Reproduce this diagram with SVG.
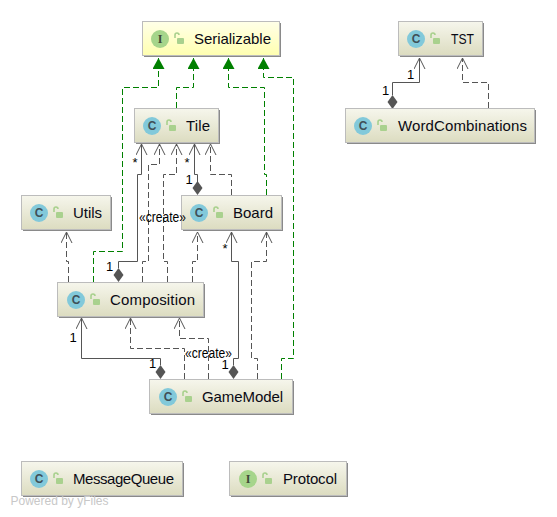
<svg xmlns="http://www.w3.org/2000/svg" width="557" height="517" viewBox="0 0 557 517">
<style>
text{font-family:"Liberation Sans",sans-serif;font-size:15px;fill:#0a0a14}
.lbl{font-family:"Liberation Sans",sans-serif;font-size:13px;fill:#000}
.cr{font-family:"Liberation Sans",sans-serif;font-size:14px;fill:#000}
.box{fill:url(#g);stroke:#bcbcbc;stroke-width:1}
.sh{fill:#8a8a8a}
.c{fill:#82c9da}
.i{fill:#a6d58b}
.k{font-family:"Liberation Sans",sans-serif;font-size:12px;font-weight:bold;fill:#3f5058;text-anchor:middle}
.ki{font-family:"Liberation Serif",serif;font-size:12px;font-weight:bold;fill:#3f4a38;text-anchor:middle}
.l{fill:none;stroke:#a9d18e;stroke-width:1.6}
.b{fill:#a9d18e}
.s{fill:none;stroke:#555;stroke-width:1}
.d{fill:none;stroke:#555;stroke-width:1;stroke-dasharray:6 3}
.gr{fill:none;stroke:#008000;stroke-width:1;stroke-dasharray:6 3}
.dia{fill:#555}
</style>
<defs>
<linearGradient id="g" x1="0" y1="0" x2="0" y2="1"><stop offset="0" stop-color="#f6f6ec"/><stop offset="1" stop-color="#dcdcc0"/></linearGradient>
<linearGradient id="y" x1="0" y1="0" x2="0" y2="1"><stop offset="0" stop-color="#ffffe8"/><stop offset="1" stop-color="#ffffb0"/></linearGradient>
<marker id="o" markerWidth="14" markerHeight="12" refX="13" refY="6" orient="auto" markerUnits="userSpaceOnUse"><path d="M2 0.5L13 6L2 11.5" fill="none" stroke="#555"/></marker>
<marker id="t" markerWidth="13" markerHeight="13" refX="12" refY="6" orient="auto" markerUnits="userSpaceOnUse"><path d="M1 0L12 6L1 12z" fill="#008000"/></marker>
<g id="lock"><path class="l" d="M-4 -1v-3a2 2 0 0 1 4 0"/><rect class="b" x="-2" y="-1" width="7" height="6" rx="1"/></g>
</defs>
<g id="connectors">
<path class="gr" marker-end="url(#t)" d="M93.5 282V251.5H122.5V87.5H158.5V58"/>
<path class="gr" marker-end="url(#t)" d="M176.5 108V87.5H193.5V58"/>
<path class="gr" marker-end="url(#t)" d="M266.5 195V174.5H264.5V87.5H228.5V58"/>
<path class="gr" marker-end="url(#t)" d="M281.5 379V358.5H293.5V77.5H263.5V58"/>
<path class="s" marker-end="url(#o)" d="M118.5 268V261.5H137.5V174.5H141.5V144"/>
<path class="d" marker-end="url(#o)" d="M142.5 282V261.5H148.5V164.5H159.5V144"/>
<path class="d" marker-end="url(#o)" d="M167.5 282V261.5H163.5V174.5H176.5V144"/>
<path class="s" marker-end="url(#o)" d="M197.5 182V174.5H194.5V144"/>
<path class="d" marker-end="url(#o)" d="M231.5 195V174.5H210.5V144"/>
<path class="d" marker-end="url(#o)" d="M68.5 282V261.5H66.5V232"/>
<path class="d" marker-end="url(#o)" d="M192.5 282V261.5H197.5V232"/>
<path class="s" marker-end="url(#o)" d="M233.5 365V358.5H238.5V261.5H231.5V232"/>
<path class="d" marker-end="url(#o)" d="M257.5 379V358.5H251.5V261.5H266.5V232"/>
<path class="s" marker-end="url(#o)" d="M160.5 365V358.5H81.5V318"/>
<path class="d" marker-end="url(#o)" d="M184.5 379V348.5H130.5V318"/>
<path class="d" marker-end="url(#o)" d="M208.5 379V338.5H179.5V318"/>
<path class="s" marker-end="url(#o)" d="M392.5 95V82.5H419.5V58"/>
<path class="d" marker-end="url(#o)" d="M488.5 108V82.5H462.5V58"/>
<path class="dia" d="M118.5 268l5 7-5 7-5-7z"/>
<path class="dia" d="M197.5 181l5 7-5 7-5-7z"/>
<path class="dia" d="M233.5 365l5 7-5 7-5-7z"/>
<path class="dia" d="M160.5 365l5 7-5 7-5-7z"/>
<path class="dia" d="M392.5 95l5 7-5 7-5-7z"/>
</g>
<g id="Serializable"><rect class="sh" x="144" y="23" width="137" height="34"/><rect class="box" style="fill:url(#y)" x="142.5" y="21.5" width="137" height="34"/><circle class="i" cx="160" cy="39" r="9"/><text class="ki" x="160" y="43">I</text><use href="#lock" x="179" y="39"/><text x="194" y="44" textLength="77">Serializable</text></g>
<g id="Tile"><rect class="sh" x="136" y="110" width="84" height="34"/><rect class="box" x="134.5" y="108.5" width="84" height="34"/><circle class="c" cx="152" cy="126" r="9"/><text class="k" x="152" y="130">C</text><use href="#lock" x="171" y="126"/><text x="186" y="131" textLength="24">Tile</text></g>
<g id="Utils"><rect class="sh" x="23" y="197" width="89" height="34"/><rect class="box" x="21.5" y="195.5" width="89" height="34"/><circle class="c" cx="39" cy="213" r="9"/><text class="k" x="39" y="217">C</text><use href="#lock" x="58" y="213"/><text x="73" y="218" textLength="29">Utils</text></g>
<g id="Board"><rect class="sh" x="183" y="197" width="100" height="34"/><rect class="box" x="181.5" y="195.5" width="100" height="34"/><circle class="c" cx="199" cy="213" r="9"/><text class="k" x="199" y="217">C</text><use href="#lock" x="218" y="213"/><text x="233" y="218" textLength="40">Board</text></g>
<g id="Composition"><rect class="sh" x="59" y="284" width="146" height="34"/><rect class="box" x="57.5" y="282.5" width="146" height="34"/><circle class="c" cx="76" cy="300" r="9"/><text class="k" x="76" y="304">C</text><use href="#lock" x="95" y="300"/><text x="110" y="305" textLength="85">Composition</text></g>
<g id="GameModel"><rect class="sh" x="151" y="381" width="143" height="34"/><rect class="box" x="149.5" y="379.5" width="143" height="34"/><circle class="c" cx="168" cy="397" r="9"/><text class="k" x="168" y="401">C</text><use href="#lock" x="187" y="397"/><text x="202" y="402" textLength="81">GameModel</text></g>
<g id="TST"><rect class="sh" x="400" y="23" width="84" height="34"/><rect class="box" x="398.5" y="21.5" width="84" height="34"/><circle class="c" cx="416" cy="39" r="9"/><text class="k" x="416" y="43">C</text><use href="#lock" x="435" y="39"/><text x="451" y="44" textLength="23" lengthAdjust="spacingAndGlyphs">TST</text></g>
<g id="WordCombinations"><rect class="sh" x="347" y="110" width="189" height="34"/><rect class="box" x="345.5" y="108.5" width="189" height="34"/><circle class="c" cx="363" cy="126" r="9"/><text class="k" x="363" y="130">C</text><use href="#lock" x="382" y="126"/><text x="398" y="131" textLength="129">WordCombinations</text></g>
<g id="MessageQueue"><rect class="sh" x="23" y="463" width="161" height="34"/><rect class="box" x="21.5" y="461.5" width="161" height="34"/><circle class="c" cx="39" cy="479" r="9"/><text class="k" x="39" y="483">C</text><use href="#lock" x="58" y="479"/><text x="73" y="484" textLength="101">MessageQueue</text></g>
<g id="Protocol"><rect class="sh" x="231" y="463" width="117" height="34"/><rect class="box" x="229.5" y="461.5" width="117" height="34"/><circle class="i" cx="248" cy="479" r="9"/><text class="ki" x="248" y="483">I</text><use href="#lock" x="267" y="479"/><text x="283" y="484" textLength="54">Protocol</text></g>
<g id="connector-labels">
<text class="lbl" x="132.5" y="167">*</text>
<text class="lbl" x="184.5" y="167">*</text>
<text class="lbl" x="222.5" y="253">*</text>
<text class="lbl" x="106" y="271">1</text>
<text class="lbl" x="185.5" y="184">1</text>
<text class="lbl" x="69.5" y="342">1</text>
<text class="lbl" x="149" y="368">1</text>
<text class="lbl" x="221.5" y="369">1</text>
<text class="lbl" x="407" y="79">1</text>
<text class="lbl" x="382" y="95">1</text>
<text class="cr" x="139" y="222" textLength="47" lengthAdjust="spacingAndGlyphs">«create»</text>
<text class="cr" x="185" y="358" textLength="47" lengthAdjust="spacingAndGlyphs">«create»</text>
</g>
<text x="10.5" y="505" textLength="98" style="font-family:'Liberation Sans',sans-serif;font-size:12px;fill:#c8c8c8">Powered by yFiles</text>
</svg>
